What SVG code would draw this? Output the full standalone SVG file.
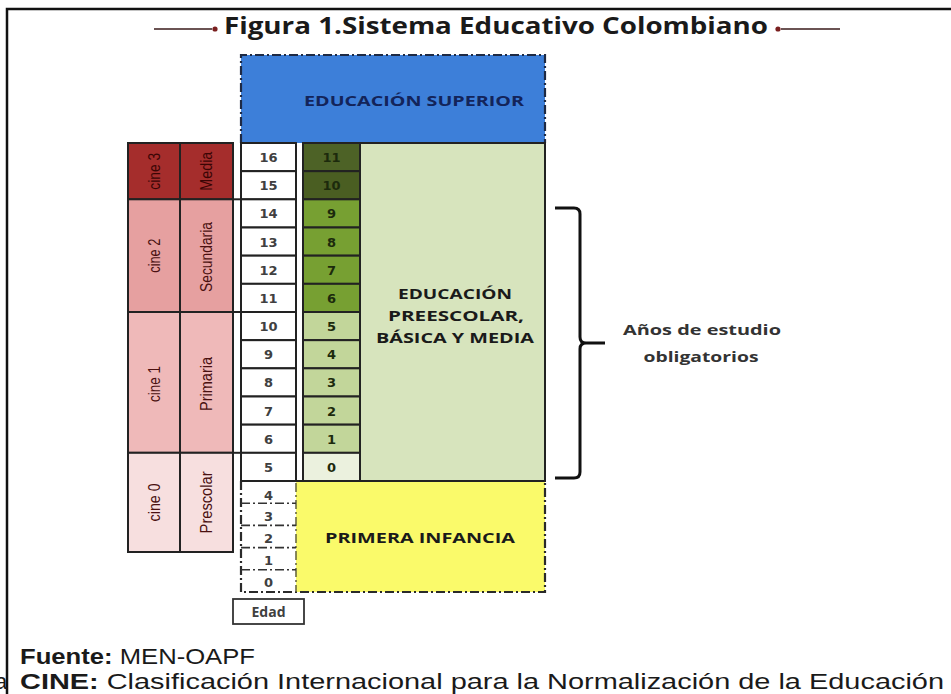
<svg xmlns="http://www.w3.org/2000/svg" width="951" height="694" viewBox="0 0 951 694">
<style>
.grid{stroke:#222;stroke-width:2}
.dd{fill:none;stroke:#1e2a44;stroke-width:2.2;stroke-dasharray:9 3 2 3}
.age{font-family:"DejaVu Sans",sans-serif;font-weight:bold;font-size:13px;fill:#404040;text-anchor:middle}
.gr{font-family:"DejaVu Sans",sans-serif;font-weight:bold;font-size:13px;fill:#1c2a0c;text-anchor:middle}
.lab{font-family:"Open Sans","Liberation Sans",sans-serif;font-weight:bold;font-size:15px;text-anchor:middle;fill:#1a1a1a}
.rot{font-family:"Liberation Sans",sans-serif;font-size:16px;text-anchor:middle;fill:#4a1010}
.ttl{font-family:"Open Sans","Liberation Sans",sans-serif;font-weight:bold;font-size:24px;fill:#1a1a1a}
.foot{font-family:"Liberation Sans",sans-serif;font-size:22px;fill:#1a1a1a}
</style>
<rect width="951" height="694" fill="#ffffff"/>
<!-- frame -->
<path d="M7,694 V9 H951" fill="none" stroke="#111" stroke-width="2.5"/>
<text x="-5" y="689" class="foot">a</text>

<!-- title -->
<g id="title">
<line x1="154" y1="29" x2="212" y2="29" stroke="#3a1a1a" stroke-width="1.5"/>
<circle cx="215" cy="29" r="2.6" fill="#7a1f1f"/>
<text x="224" y="34" class="ttl" textLength="544" lengthAdjust="spacingAndGlyphs">Figura 1.Sistema Educativo Colombiano</text>
<circle cx="778" cy="29" r="2.6" fill="#7a1f1f"/>
<line x1="781" y1="29" x2="840" y2="29" stroke="#3a1a1a" stroke-width="1.5"/>
</g>

<!-- educacion superior -->
<g id="superior">
<rect x="241" y="55" width="304" height="88" fill="#3d7fd9"/>
<path d="M241,143 V55 H545 V143" class="dd"/>
<text x="414" y="106" class="lab" style="fill:#13245a" textLength="220" lengthAdjust="spacingAndGlyphs">EDUCACIÓN SUPERIOR</text>
</g>

<!-- big green area -->
<g id="basica">
<rect x="360" y="143" width="185" height="338" fill="#d7e4bd" class="grid"/>
<text x="455" y="299" class="lab" textLength="114" lengthAdjust="spacingAndGlyphs">EDUCACIÓN</text>
<text x="456" y="321" class="lab" textLength="136" lengthAdjust="spacingAndGlyphs">PREESCOLAR,</text>
<text x="455" y="343" class="lab" textLength="158" lengthAdjust="spacingAndGlyphs">BÁSICA Y MEDIA</text>
</g>

<!-- left columns -->
<g id="cine3">
<rect x="128" y="143" width="52" height="56.3" fill="#a52d2c" class="grid"/>
<rect x="180" y="143" width="53" height="56.3" fill="#a52d2c" class="grid"/>
<text transform="translate(154,171.2) rotate(-90)" dy="0.35em" class="rot" textLength="37" lengthAdjust="spacingAndGlyphs" style="fill:#3a0505">cine 3</text>
<text transform="translate(206.5,171.2) rotate(-90)" dy="0.35em" class="rot" textLength="39" lengthAdjust="spacingAndGlyphs" style="fill:#3a0505">Media</text>
</g>
<g id="cine2">
<rect x="128" y="199.3" width="52" height="112.7" fill="#e6a0a0" class="grid"/>
<rect x="180" y="199.3" width="53" height="112.7" fill="#e6a0a0" class="grid"/>
<text transform="translate(154,255.7) rotate(-90)" dy="0.35em" class="rot" textLength="34" lengthAdjust="spacingAndGlyphs">cine 2</text>
<text transform="translate(206.5,257) rotate(-90)" dy="0.35em" class="rot" textLength="70" lengthAdjust="spacingAndGlyphs">Secundaria</text>
</g>
<g id="cine1">
<rect x="128" y="312" width="52" height="140.8" fill="#efb9b9" class="grid"/>
<rect x="180" y="312" width="53" height="140.8" fill="#efb9b9" class="grid"/>
<text transform="translate(154,384) rotate(-90)" dy="0.35em" class="rot" textLength="36" lengthAdjust="spacingAndGlyphs">cine 1</text>
<text transform="translate(206.5,384) rotate(-90)" dy="0.35em" class="rot" textLength="54" lengthAdjust="spacingAndGlyphs">Primaria</text>
</g>
<g id="cine0">
<rect x="128" y="452.8" width="52" height="99.2" fill="#f7dfdf" class="grid"/>
<rect x="180" y="452.8" width="53" height="99.2" fill="#f7dfdf" class="grid"/>
<text transform="translate(154,502.4) rotate(-90)" dy="0.35em" class="rot" textLength="38" lengthAdjust="spacingAndGlyphs">cine 0</text>
<text transform="translate(206.5,502.4) rotate(-90)" dy="0.35em" class="rot" textLength="62" lengthAdjust="spacingAndGlyphs">Prescolar</text>
</g>
<line x1="233" y1="199.3" x2="241" y2="199.3" class="grid"/>
<line x1="233" y1="312" x2="241" y2="312" class="grid"/>
<line x1="233" y1="452.8" x2="241" y2="452.8" class="grid"/>

<!-- age column -->
<g id="edad">
<rect x="241" y="143" width="55" height="28.17" fill="#fff" class="grid"/>
<rect x="241" y="171.17" width="55" height="28.17" fill="#fff" class="grid"/>
<rect x="241" y="199.33" width="55" height="28.17" fill="#fff" class="grid"/>
<rect x="241" y="227.5" width="55" height="28.17" fill="#fff" class="grid"/>
<rect x="241" y="255.67" width="55" height="28.17" fill="#fff" class="grid"/>
<rect x="241" y="283.83" width="55" height="28.17" fill="#fff" class="grid"/>
<rect x="241" y="312" width="55" height="28.17" fill="#fff" class="grid"/>
<rect x="241" y="340.17" width="55" height="28.17" fill="#fff" class="grid"/>
<rect x="241" y="368.33" width="55" height="28.17" fill="#fff" class="grid"/>
<rect x="241" y="396.5" width="55" height="28.17" fill="#fff" class="grid"/>
<rect x="241" y="424.67" width="55" height="28.17" fill="#fff" class="grid"/>
<rect x="241" y="452.83" width="55" height="28.17" fill="#fff" class="grid"/>
<text x="268.5" y="162" class="age">16</text>
<text x="268.5" y="190" class="age">15</text>
<text x="268.5" y="218" class="age">14</text>
<text x="268.5" y="247" class="age">13</text>
<text x="268.5" y="275" class="age">12</text>
<text x="268.5" y="303" class="age">11</text>
<text x="268.5" y="331" class="age">10</text>
<text x="268.5" y="359" class="age">9</text>
<text x="268.5" y="387" class="age">8</text>
<text x="268.5" y="416" class="age">7</text>
<text x="268.5" y="444" class="age">6</text>
<text x="268.5" y="472" class="age">5</text>
</g>

<!-- grade column -->
<g id="grados">
<rect x="303" y="143" width="57" height="28.17" fill="#4d6226" class="grid"/>
<rect x="303" y="171.17" width="57" height="28.17" fill="#4a5e22" class="grid"/>
<rect x="303" y="199.33" width="57" height="28.17" fill="#77a032" class="grid"/>
<rect x="303" y="227.5" width="57" height="28.17" fill="#77a032" class="grid"/>
<rect x="303" y="255.67" width="57" height="28.17" fill="#77a032" class="grid"/>
<rect x="303" y="283.83" width="57" height="28.17" fill="#77a032" class="grid"/>
<rect x="303" y="312" width="57" height="28.17" fill="#c2d69a" class="grid"/>
<rect x="303" y="340.17" width="57" height="28.17" fill="#c2d69a" class="grid"/>
<rect x="303" y="368.33" width="57" height="28.17" fill="#c2d69a" class="grid"/>
<rect x="303" y="396.5" width="57" height="28.17" fill="#c2d69a" class="grid"/>
<rect x="303" y="424.67" width="57" height="28.17" fill="#c2d69a" class="grid"/>
<rect x="303" y="452.83" width="57" height="28.17" fill="#ebf1de" class="grid"/>
<text x="331.5" y="162" class="gr">11</text>
<text x="331.5" y="190" class="gr">10</text>
<text x="331.5" y="218" class="gr">9</text>
<text x="331.5" y="247" class="gr">8</text>
<text x="331.5" y="275" class="gr">7</text>
<text x="331.5" y="303" class="gr">6</text>
<text x="331.5" y="331" class="gr">5</text>
<text x="331.5" y="359" class="gr">4</text>
<text x="331.5" y="387" class="gr">3</text>
<text x="331.5" y="416" class="gr">2</text>
<text x="331.5" y="444" class="gr">1</text>
<text x="331.5" y="472" class="gr">0</text>
</g>

<!-- primera infancia -->
<g id="infancia">
<rect x="296" y="481" width="249" height="111" fill="#fafa6a"/>
<path d="M241,481 V592 H545 V481" class="dd" style="stroke:#2a2a2a"/>
<line x1="296" y1="483" x2="296" y2="592" class="dd" style="stroke:#6a6a40;stroke-width:1.6"/>
<path d="M241,503.2 H296 M241,525.4 H296 M241,547.6 H296 M241,569.8 H296" class="dd" style="stroke:#333;stroke-width:1.6"/>
<line x1="241" y1="481" x2="545" y2="481" class="grid"/>
<text x="268.5" y="500" class="age">4</text>
<text x="268.5" y="521" class="age">3</text>
<text x="268.5" y="543" class="age">2</text>
<text x="268.5" y="565" class="age">1</text>
<text x="268.5" y="587" class="age">0</text>
<text x="420" y="543" class="lab" textLength="190" lengthAdjust="spacingAndGlyphs">PRIMERA INFANCIA</text>
</g>

<g id="edad-label">
<rect x="233" y="599" width="71" height="25" fill="#fff" stroke="#333" stroke-width="1.8"/>
<text x="268.5" y="617" class="lab" style="font-size:14px;fill:#404040">Edad</text>
</g>

<!-- bracket -->
<g id="connectors">
<path d="M555,208 H574 Q580,208 580,214 V337 Q580,343 586,343 H605 M586,343 Q580,343 580,349 V472 Q580,478 574,478 H555" fill="none" stroke="#111" stroke-width="3"/>
</g>
<g id="obligatorios">
<text x="702" y="335" class="lab" style="fill:#333" textLength="158" lengthAdjust="spacingAndGlyphs">Años de estudio</text>
<text x="701" y="362" class="lab" style="fill:#333" textLength="115" lengthAdjust="spacingAndGlyphs">obligatorios</text>
</g>

<!-- footer -->
<g id="footer">
<text x="20" y="664" class="foot" textLength="235" lengthAdjust="spacingAndGlyphs"><tspan font-weight="bold">Fuente:</tspan> MEN-OAPF</text>
<text x="20" y="689" class="foot" textLength="924" lengthAdjust="spacingAndGlyphs"><tspan font-weight="bold">CINE:</tspan> Clasificación Internacional para la Normalización de la Educación</text>
</g>
</svg>
